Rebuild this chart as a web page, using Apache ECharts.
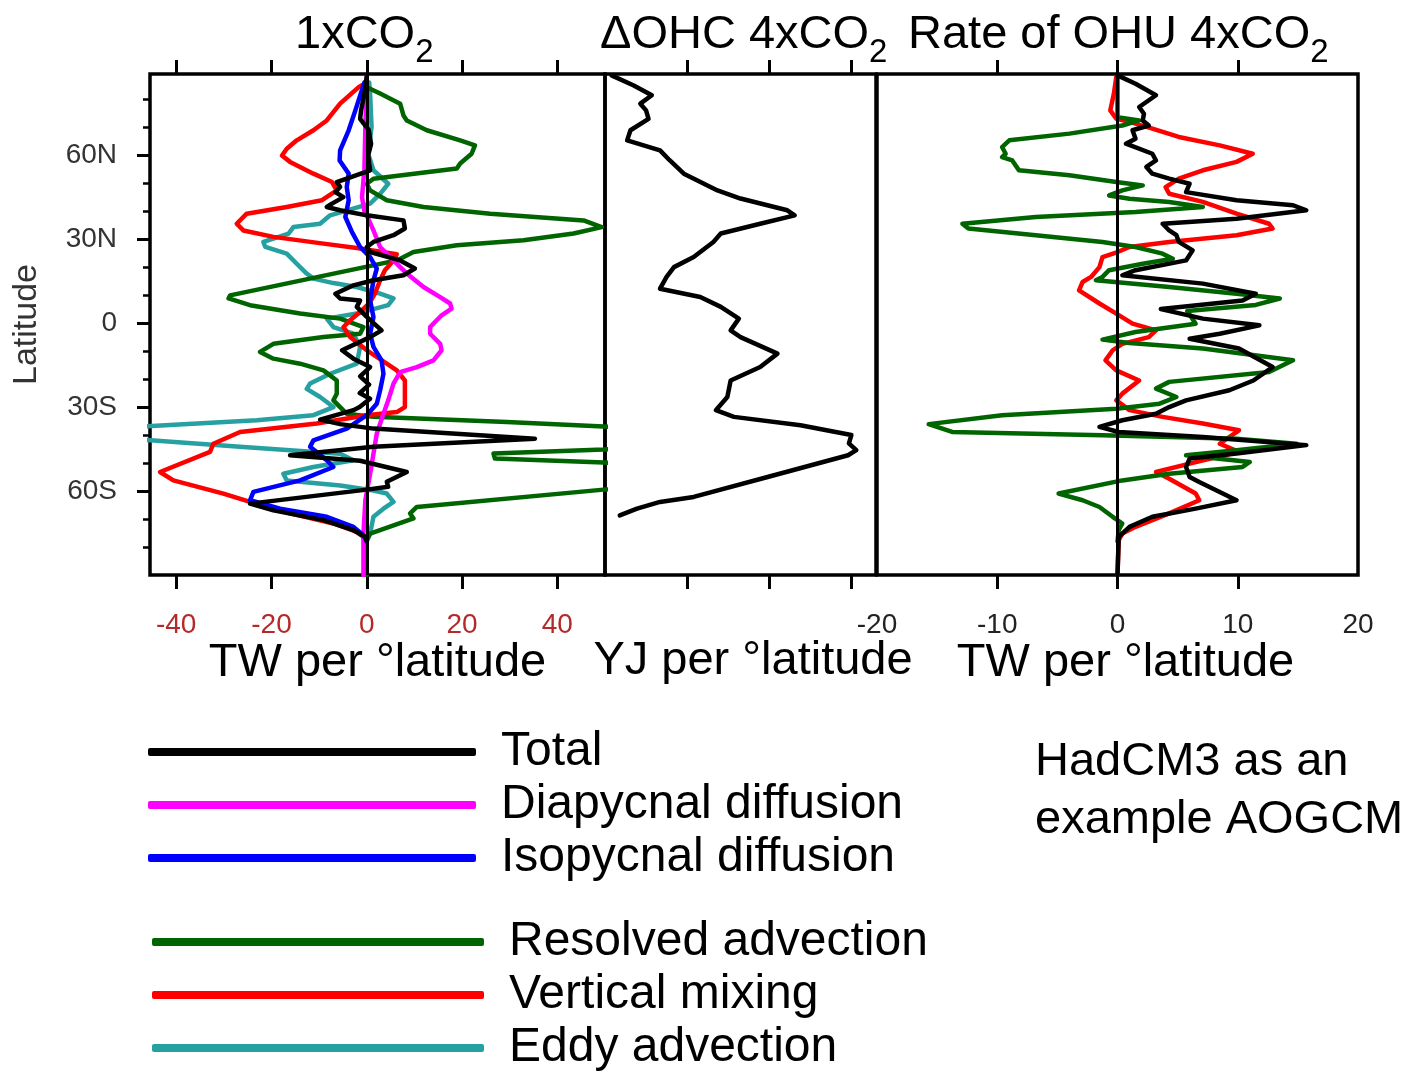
<!DOCTYPE html>
<html><head><meta charset="utf-8">
<script src="https://cdn.jsdelivr.net/npm/echarts@6/dist/echarts.min.js"></script>
<style>html,body{margin:0;padding:0;background:#fff}#c{width:1413px;height:1076px}</style>
</head><body><div id="c"></div>
<script>
const FONT = '"Liberation Sans", Arial, Helvetica, sans-serif';

// ---- axis ticks / labels ----
const latTicks = [-60, -30, 0, 30, 60];
const latTickLabels = ['60S', '30S', '0', '30N', '60N'];
const latMinorTicks = [-80, -70, -60, -50, -40, -30, -20, -10, 0, 10, 20, 30, 40, 50, 60, 70, 80];
const p1Ticks = [-40, -20, 0, 20, 40];
const p2Ticks = [10, 20, 30];
const p3Ticks = [-10, 0, 10];
const p3Labels = [-20, -10, 0, 10, 20];

// ---- panel 1: 1xCO2, TW per degree latitude, pairs are [latitude, value] ----
const p1Total = [[88,0],[82,-0.5],[76,-1.2],[73,-1.4],[69,0.4],[64,0.9],[60,0.3],[57,0.5],[54.6,0.7],[50.4,-6.3],[48.6,-5.6],[46.8,-6.6],[45.0,-4.9],[42.7,-7.3],[41.5,-8.4],[40.3,-5.6],[38.5,0],[36.7,7.7],[33.8,8.0],[31.4,5.6],[29.0,1.4],[27.2,0],[25.4,0.7],[22.4,7.0],[19.5,10.1],[17.1,7.7],[15.3,1.4],[13.5,-2.8],[10.5,-6.6],[8.8,-5.6],[8.1,-1.4],[5.8,-2.1],[2.2,0],[-2.6,3.1],[-5.0,0.7],[-9.7,-5.2],[-12.7,-2.8],[-15.7,0.7],[-19,-1.4],[-22,0.5],[-25,-1.5],[-27,0.7],[-30,-1.5],[-31.1,-2.8],[-34.5,-9.8],[-36.1,-5.6],[-37.7,1.4],[-41.3,35.3],[-44.2,1.4],[-47.2,-16.1],[-49.2,-1.4],[-53.2,8.4],[-56.7,4.2],[-58.5,4.5],[-59.5,0],[-64.5,-24.5],[-66.9,-19.6],[-70.4,-9.1],[-74.0,-2.8],[-76.4,-0.3],[-78,0]];
const p1Diapycnal = [[88,0],[70,-0.3],[55,-0.5],[45,-1.0],[40,-0.5],[38.5,0],[33.1,1.4],[27.2,2.8],[22.4,5.6],[17.7,8.4],[12.9,11.9],[9.3,15.4],[7.0,17.5],[5.2,17.8],[2.8,15.7],[-1.4,13.3],[-3.8,13.3],[-7.4,15.4],[-9.7,15.7],[-13.3,14.0],[-15.7,10.5],[-17.5,7.0],[-21.6,5.6],[-27.6,4.5],[-32.4,3.5],[-39.5,2.1],[-46.7,1.4],[-53.8,0.7],[-63.3,-0.3],[-75.2,-0.7],[-90,-0.7]];
const p1Isopycnal = [[86,-0.5],[76.0,-2.4],[68.9,-3.8],[61.7,-5.6],[58.1,-5.7],[53.4,-3.8],[48.6,-4.2],[43.9,-3.8],[37.9,-4.5],[32.5,-3.1],[27.2,-1.4],[23.6,0.7],[19.5,2.1],[15.3,1.4],[8.1,0.7],[2.2,1.4],[-3.8,0.7],[-8.5,1.4],[-13.3,3.1],[-18.1,3.5],[-24.0,2.8],[-28.8,2.1],[-32.9,0],[-37.7,-4.2],[-41.9,-11.2],[-44.2,-11.9],[-49.0,-8.4],[-51.4,-7.0],[-56.2,-14.0],[-60.3,-23.8],[-63.3,-24.5],[-66.3,-18.2],[-69.2,-8.4],[-72.8,-2.8],[-75.8,-0.7],[-78,0]];
const p1Resolved = [[88,0],[84.3,0],[82.0,2.8],[78.4,7.0],[74.2,7.7],[72.4,8.4],[68.9,12.6],[65.3,19.6],[63.5,22.7],[60.5,22.0],[57.0,19.6],[55.2,18.9],[51.6,1.4],[49.8,0],[47.4,0.7],[43.9,4.2],[41.5,11.9],[39.1,25.9],[36.7,45.5],[34.3,49.3],[32.0,43.4],[29.6,32.9],[27.8,18.9],[25.4,9.8],[22.4,6.3],[9.9,-28.7],[8.8,-29.0],[6.4,-24.5],[3.4,-14.0],[1.6,-5.6],[-1.4,-0.7],[-3.8,-1.4],[-5.0,-9.1],[-7.4,-19.6],[-10.3,-22.4],[-12.7,-19.6],[-14.5,-14.0],[-16.9,-9.1],[-20.5,-6.3],[-25.2,-6.3],[-27.6,-7.0],[-30.0,-5.6],[-32.4,-4.2],[-33.5,1.4],[-35.3,29.4],[-36.9,49.7],[-38.5,62],[-43.5,62],[-45.2,49.7],[-46.6,26.6],[-48.4,26.9],[-49.8,49.7],[-51.5,62],[-57.5,62],[-59.5,49.7],[-65.7,10.5],[-68.0,9.1],[-69.8,9.8],[-75.2,0.7],[-77.6,0],[-90,0]];
const p1Vertical = [[85,-1.0],[84.3,-1.7],[78.4,-5.6],[72.4,-8.4],[68.9,-11.2],[65.3,-14.7],[62.3,-16.8],[59.9,-17.8],[57.6,-16.1],[53.4,-11.2],[50.4,-7.3],[47.4,-6.3],[43.9,-9.4],[41.5,-16.8],[39.1,-25.2],[35.5,-27.3],[33.1,-25.9],[30.8,-19.6],[28.4,-9.1],[26.8,-2.1],[24.6,6.3],[22.4,5.6],[18.9,3.8],[15.3,2.8],[10.5,1.7],[7,0.5],[4,-1.4],[1,-3.5],[-1.4,-4.9],[-5.0,-3.5],[-9.7,0],[-16.9,6.3],[-20.5,8.0],[-30.0,8.0],[-31.8,6.3],[-32.9,0],[-35.9,-10.5],[-38.9,-26.6],[-43.1,-32.2],[-46.0,-32.9],[-53.2,-43.4],[-56.2,-40.6],[-60.9,-30.1],[-63.9,-24.5],[-68.0,-16.1],[-71.6,-7.0],[-74.6,-2.1],[-76.4,-0.7],[-78,0]];
const p1Eddy = [[86,0.5],[82.0,0.7],[70.1,1.0],[60.5,0.3],[54.6,1.4],[49.8,4.5],[46.2,2.8],[42.7,0.7],[38.5,-7.7],[35.5,-9.8],[34.3,-15.4],[32.0,-16.4],[29.0,-21.7],[27.2,-21.3],[24.8,-16.8],[21.2,-14.7],[17.7,-12.6],[15.9,-11.2],[14.3,-7.0],[12.9,-2.1],[10.5,2.8],[8.8,5.6],[6.4,4.5],[3.4,-2.1],[1.6,-8.4],[-1.4,-7.0],[-3.8,-2.8],[-8.5,-1.4],[-14.5,-2.1],[-18.1,-7.7],[-21.6,-11.9],[-23.5,-12.6],[-26.4,-9.8],[-30.0,-7.0],[-32.9,-11.2],[-34.7,-23.1],[-37.0,-48],[-41.5,-48],[-44.2,-26.6],[-46.7,-5.6],[-49.0,-2.8],[-51.4,-11.2],[-53.8,-17.5],[-56.2,-16.8],[-58.0,-5.6],[-59.8,1.4],[-60.9,4.2],[-63.9,5.6],[-66.3,3.5],[-69.2,1.4],[-75.2,0.7],[-78,0]];

// ---- panel 2: Delta OHC 4xCO2, YJ per degree latitude ----
const p2DeltaOHC = [[88.5,0.8],[84.9,3.5],[81.4,5.7],[78.4,4.3],[76,5.0],[73.0,5.3],[68.9,3.1],[65.3,2.7],[61.7,6.7],[58.1,7.9],[53.4,9.6],[47.4,13.7],[44.5,16.5],[40.3,22.2],[38.5,23.1],[35.5,18.9],[32.0,14.1],[29.0,13.2],[23.6,10.8],[20.0,8.4],[16.5,7.5],[12.3,6.7],[9.3,11.6],[5.8,14.1],[1.6,16.3],[-2.6,15.3],[-5.0,16.5],[-10.9,21.0],[-15.7,18.9],[-20.5,15.3],[-26.4,14.9],[-31.1,13.5],[-33.5,15.7],[-36.5,23.8],[-40.0,30.0],[-43.0,29.7],[-45.4,30.6],[-47.2,29.6],[-55.0,19.8],[-62.1,10.8],[-63.9,6.7],[-66.3,3.9],[-68.7,1.8]];

// ---- panel 3: rate of OHU 4xCO2, TW per degree latitude ----
const p3Total = [[88.5,0],[85.5,1.5],[81.4,3.2],[79.0,2.4],[77.2,1.8],[74.8,2.2],[72.4,2.1],[70.6,2.6],[68.9,1.25],[65.9,1.5],[64.1,0.7],[60.5,2.9],[58.1,3.2],[55.8,2.4],[53.4,2.9],[51.6,4.3],[49.8,6.0],[46.8,5.7],[43.9,9.9],[42.1,14.6],[40.3,15.7],[37.3,9.9],[35.5,3.75],[33.1,4.3],[31.4,4.9],[29.0,5.1],[26.0,6.25],[22.4,5.7],[18.9,1.5],[17.1,0.4],[14.1,7.1],[10.5,11.5],[8.1,10.4],[5.0,3.6],[1.6,7.1],[-0.8,11.8],[-3.8,8.5],[-5.6,6.0],[-9.1,10.1],[-15.7,12.9],[-20.5,11.3],[-24.0,9.3],[-27.6,5.7],[-30.0,4.3],[-32.4,3.2],[-34.7,0.4],[-37.1,-1.5],[-38.9,0.1],[-40.7,7.1],[-43.6,15.7],[-46.6,9.9],[-48.4,6.0],[-51.4,5.7],[-55.0,6.0],[-56.8,6.8],[-63.3,9.9],[-66.3,6.5],[-69.2,2.9],[-72.8,1.0],[-76.4,0.1],[-90,0]];
const p3Vertical = [[88,-0.1],[82.0,-0.3],[76.0,-0.6],[73.0,-0.1],[71.9,1.0],[69.5,2.9],[66.5,5.1],[63.5,8.5],[60.5,11.25],[57.6,9.9],[54.6,7.1],[51.6,5.1],[48.6,4.0],[46.2,4.3],[43.3,7.1],[39.1,9.9],[35.5,12.6],[33.8,12.9],[31.4,9.9],[29.0,4.3],[27.2,1.0],[25.4,0],[23.6,-1.25],[20.0,-1.5],[16.5,-2.2],[14.7,-2.9],[11.7,-3.2],[7.0,-1.5],[3.4,-0.1],[-0.2,1.25],[-2.6,3.2],[-5.0,2.6],[-7.4,0.4],[-9.7,-0.4],[-13.3,-1.0],[-16.9,-0.1],[-20.5,1.8],[-25.2,0.4],[-27.6,-0.1],[-31.1,1.0],[-33.5,3.75],[-35.9,7.1],[-38.3,10.1],[-43.1,8.5],[-46.0,10.1],[-50.2,6.0],[-53.2,3.2],[-55.6,4.3],[-60.9,6.5],[-63.3,6.8],[-68.0,4.3],[-72.8,1.5],[-75.2,0.4],[-77.6,0.1],[-90,0]];
const p3Resolved = [[88,0],[73.6,0],[72.4,1.8],[70.6,0.4],[67.7,-4.0],[65.3,-9.0],[62.9,-9.6],[60.5,-9.3],[59.3,-9.6],[58.1,-8.75],[54.6,-8.2],[52.8,-4.0],[50.4,-0.1],[49.2,2.1],[47.4,0.4],[45.6,-0.7],[44.4,1.0],[43.3,4.3],[41.5,7.1],[39.7,1.5],[37.9,-6.8],[35.5,-12.9],[33.8,-12.4],[31.4,-6.8],[29.0,-1.25],[27.2,1.5],[24.8,3.75],[23.0,4.6],[21.2,2.1],[18.9,-0.7],[16.5,-1.25],[15.3,-1.8],[12.9,4.3],[10.5,9.9],[8.8,13.5],[6.5,11.5],[4.3,5.8],[-0.2,6.5],[-3.2,1.5],[-5.9,-1.25],[-7.1,1.0],[-9.1,7.1],[-13.3,14.6],[-17.5,12.6],[-21.0,4.3],[-23.4,3.2],[-26.4,4.9],[-28.8,3.5],[-30.6,-0.1],[-32.9,-9.6],[-36.1,-15.7],[-38.9,-13.75],[-40.1,-1.25],[-41.3,9.9],[-43.1,14.9],[-45.4,9.9],[-47.2,5.7],[-49.6,11.0],[-51.4,10.4],[-53.8,4.3],[-56.2,0.4],[-60.9,-4.9],[-63.3,-2.9],[-65.7,-1.5],[-69.2,-0.4],[-71.6,0.4],[-74.0,0.1],[-78,0]];

const COLORS = {
  'Total': '#000000',
  'Diapycnal diffusion': '#ff00ff',
  'Isopycnal diffusion': '#0000ff',
  'Resolved advection': '#006400',
  'Vertical mixing': '#ff0000',
  'Eddy advection': '#26a0a0',
  'ΔOHC': '#000000'
};

function line(name, pts, panel, zeroLine) {
  const s = {
    type: 'line', name: name,
    xAxisIndex: panel * 2, yAxisIndex: panel === 0 ? 0 : panel + 1,
    data: pts.map(p => [p[1], p[0]]),
    symbol: 'none', showSymbol: false, silent: true, animation: false, clip: true,
    color: COLORS[name],
    itemStyle: { color: COLORS[name] },
    lineStyle: { color: COLORS[name], width: 4.5, cap: 'round', join: 'round' }
  };
  if (zeroLine) {
    s.markLine = {
      silent: true, animation: false, symbol: ['none', 'none'],
      label: { show: false },
      lineStyle: { color: '#000', width: 3, type: 'solid' },
      emphasis: { disabled: true },
      data: [{ xAxis: 0 }]
    };
  }
  return s;
}

const grids = [
  { left: 150, top: 74, width: 455, height: 501 },
  { left: 605, top: 74, width: 271, height: 501 },
  { left: 877, top: 74, width: 481, height: 501 }
].map(g => Object.assign({ show: true, borderColor: '#000', borderWidth: 3.5, backgroundColor: 'transparent', containLabel: false }, g));

const tickStyle = { show: true, inside: false, length: 14, lineStyle: { color: '#000', width: 3 } };
const noLine = { show: false, onZero: false };

function xPair(gi, min, max, ticks, labels, labelColor, name, namePad) {
  const bottom = {
    type: 'value', gridIndex: gi, position: 'bottom', min: min, max: max,
    axisLine: noLine, splitLine: { show: false },
    axisTick: Object.assign({ customValues: ticks }, tickStyle),
    axisLabel: labels ? { show: true, customValues: labels, color: labelColor, fontSize: 28, fontFamily: FONT, margin: 36, showMinLabel: true, showMaxLabel: true } : { show: false },
    name: name, nameLocation: 'middle', nameGap: 63,
    nameTextStyle: { fontSize: 47, color: '#000', fontFamily: FONT, padding: [0, 0, 0, namePad] }
  };
  const top = {
    type: 'value', gridIndex: gi, position: 'top', min: min, max: max,
    axisLine: noLine, splitLine: { show: false },
    axisTick: Object.assign({ customValues: ticks }, tickStyle),
    axisLabel: { show: false }
  };
  return [bottom, top];
}

const xAxes = [].concat(
  xPair(0, -45.5, 50, p1Ticks, p1Ticks, '#b32a2a', 'TW per °latitude', 0),
  xPair(1, 0, 33, p2Ticks, null, '#000', 'YJ per °latitude', 25),
  xPair(2, -20, 20, p3Ticks, p3Labels, '#222', 'TW per °latitude', 16)
);

const yAxes = [
  {
    type: 'value', gridIndex: 0, position: 'left', min: -90, max: 89,
    axisLine: noLine, splitLine: { show: false },
    axisTick: { show: true, customValues: latTicks, length: 13, lineStyle: { color: '#000', width: 3 } },
    axisLabel: {
      show: true, customValues: latTicks, fontSize: 28, color: '#333', fontFamily: FONT, margin: 33,
      formatter: v => latTickLabels[latTicks.indexOf(v)]
    },
    name: 'Latitude', nameLocation: 'middle', nameGap: 106,
    nameTextStyle: { fontSize: 34, color: '#333', fontFamily: FONT }
  },
  {
    type: 'value', gridIndex: 0, position: 'left', min: -90, max: 89,
    axisLine: noLine, splitLine: { show: false },
    axisTick: { show: true, customValues: latMinorTicks, length: 7, lineStyle: { color: '#000', width: 2.5 } },
    axisLabel: { show: false }
  },
  { type: 'value', gridIndex: 1, min: -90, max: 89, show: false, axisLine: noLine },
  { type: 'value', gridIndex: 2, min: -90, max: 89, show: false, axisLine: noLine }
];

const subTitle = (main, left, top) => ({
  text: '{a|' + main + '}{s|2}', left: left, top: top, padding: 0,
  textStyle: {
    fontWeight: 'normal',
    rich: {
      a: { fontSize: 47, lineHeight: 47, fontFamily: FONT, fontWeight: 'normal', color: '#000', verticalAlign: 'top' },
      s: { fontSize: 33, lineHeight: 33, fontFamily: FONT, fontWeight: 'normal', color: '#000', verticalAlign: 'top', padding: [24, 0, 0, 0] }
    }
  }
});

const legendBase = {
  orient: 'vertical', icon: 'roundRect', itemHeight: 8, itemGap: 5, selectedMode: false, padding: 0,
  textStyle: { fontSize: 48, lineHeight: 46, color: '#000', fontFamily: FONT, padding: [0, 0, 0, 20] }
};

const option = {
  backgroundColor: '#fff',
  animation: false,
  title: [
    subTitle('1xCO', 295, 12),
    subTitle('ΔOHC 4xCO', 600, 12),
    subTitle('Rate of OHU 4xCO', 908, 12),
    { text: 'HadCM3 as an\nexample AOGCM', left: 1035, top: 733, padding: 0,
      textStyle: { fontSize: 47, lineHeight: 58, fontWeight: 'normal', color: '#000', fontFamily: FONT } }
  ],
  legend: [
    Object.assign({}, legendBase, { left: 148, top: 728, itemWidth: 328,
      data: ['Total', 'Diapycnal diffusion', 'Isopycnal diffusion'] }),
    Object.assign({}, legendBase, { left: 152, top: 918, itemWidth: 332, height: 160,
      data: ['Resolved advection', 'Vertical mixing', 'Eddy advection'] })
  ],
  grid: grids,
  xAxis: xAxes,
  yAxis: yAxes,
  series: [
    line('Eddy advection', p1Eddy, 0),
    line('Resolved advection', p1Resolved, 0),
    line('Vertical mixing', p1Vertical, 0),
    line('Diapycnal diffusion', p1Diapycnal, 0),
    line('Isopycnal diffusion', p1Isopycnal, 0),
    line('Total', p1Total, 0, true),
    line('ΔOHC', p2DeltaOHC, 1),
    line('Vertical mixing', p3Vertical, 2),
    line('Resolved advection', p3Resolved, 2),
    line('Total', p3Total, 2, true)
  ]
};

const chart = echarts.init(document.getElementById('c'), null, { renderer: 'canvas' });
chart.setOption(option);
</script>
</body></html>
